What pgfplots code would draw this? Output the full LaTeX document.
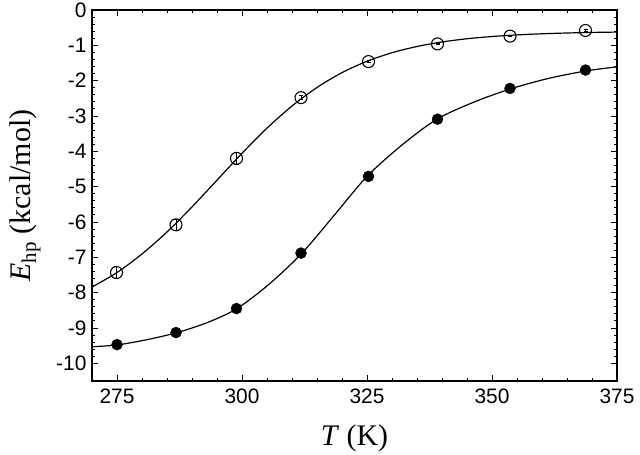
\documentclass[border=0pt]{standalone}
\usepackage{pgfplots}
\pgfplotsset{compat=1.18}
\usepackage{fontspec}
\setmainfont{Liberation Serif}
\newfontfamily\sansf{Liberation Sans}
\begin{document}
\begin{tikzpicture}
\begin{axis}[
  at={(0,0)}, anchor=south west,
  scale only axis, width=525bp, height=371bp,
  xmin=270, xmax=375, ymin=-10.5, ymax=0,
  xtick={275,300,325,350,375}, ytick={0,-1,-2,-3,-4,-5,-6,-7,-8,-9,-10},
  minor x tick num=4, minor y tick num=4,
  tick pos=both, tick align=inside,
  major tick length=6bp, minor tick length=3bp,
  every tick/.style={black, line width=0.9pt},
  axis line style={black, line width=1.1pt},
  /pgf/number format/assume math mode=true,
  ticklabel style={font=\sansf\fontsize{21}{24}\selectfont},
  xticklabel style={yshift=-4bp},
  yticklabel style={xshift=-2bp},
  every axis x label/.style={at={([yshift=-57bp]axis description cs:0.5,0)}, anchor=center},
  every axis y label/.style={at={([xshift=-67bp]axis description cs:0,0.5)}, anchor=center, rotate=90},
  xlabel={\fontsize{30}{34}\selectfont\textit{T} (K)},
  ylabel={\fontsize{30}{34}\selectfont\textit{E}\textsubscript{hp} (kcal/mol)},
]
% fitted curves
\addplot[black, line width=1.2pt, smooth, no marks] coordinates {
(270,-7.84) (275,-7.43) (280,-6.905) (285,-6.282) (290,-5.573) (295,-4.817)
(300,-4.056) (305,-3.344) (310,-2.717) (315,-2.193) (320,-1.773) (325,-1.451)
(330,-1.209) (335,-1.033) (340,-0.905) (345,-0.814) (350,-0.750) (355,-0.705)
(360,-0.673) (365,-0.651) (370,-0.635) (375,-0.625)};
\addplot[black, line width=1.2pt, smooth, no marks] coordinates {
(270,-9.53) (275,-9.48) (281,-9.33) (287,-9.13) (293,-8.85) (299,-8.45)
(305.5,-7.75) (312,-6.88) (318.5,-5.8) (325,-4.71) (332,-3.82) (339,-3.09)
(346.5,-2.6) (354,-2.22) (361.5,-1.93) (369,-1.72) (375,-1.61)};
% data
\addplot[only marks, mark=*, mark size=5.5bp, mark options={fill=black, draw=black}] coordinates {
(275,-9.47) (286.8,-9.13) (298.9,-8.45) (311.8,-6.88) (325.3,-4.71) (339.1,-3.09) (353.6,-2.22) (368.7,-1.70)};
\addplot[only marks, mark=o, mark size=6bp, mark options={fill=white, draw=black, line width=1.1pt}] coordinates {
(274.9,-7.43) (286.8,-6.08) (298.9,-4.20) (311.8,-2.48) (325.3,-1.46) (339.1,-0.96) (353.6,-0.74) (368.7,-0.58)};
\addplot[draw=none, mark=none,
  error bars/.cd, y dir=both, y explicit,
  error bar style={draw=black, line width=1pt},
  error mark options={rotate=90, mark size=2bp, draw=black, line width=1pt}]
  coordinates {
(274.9,-7.43) +- (0,0.17) (286.8,-6.08) +- (0,0.16) (298.9,-4.20) +- (0,0.16) (311.8,-2.48) +- (0,0.06)
(325.3,-1.46) +- (0,0.02) (339.1,-0.96) +- (0,0.01) (353.6,-0.74) +- (0,0.02) (368.7,-0.58) +- (0,0.02)};
\end{axis}
\pgfresetboundingbox
\path[use as bounding box] (-92bp,-74bp) rectangle (548bp,381bp);
\end{tikzpicture}
\end{document}
